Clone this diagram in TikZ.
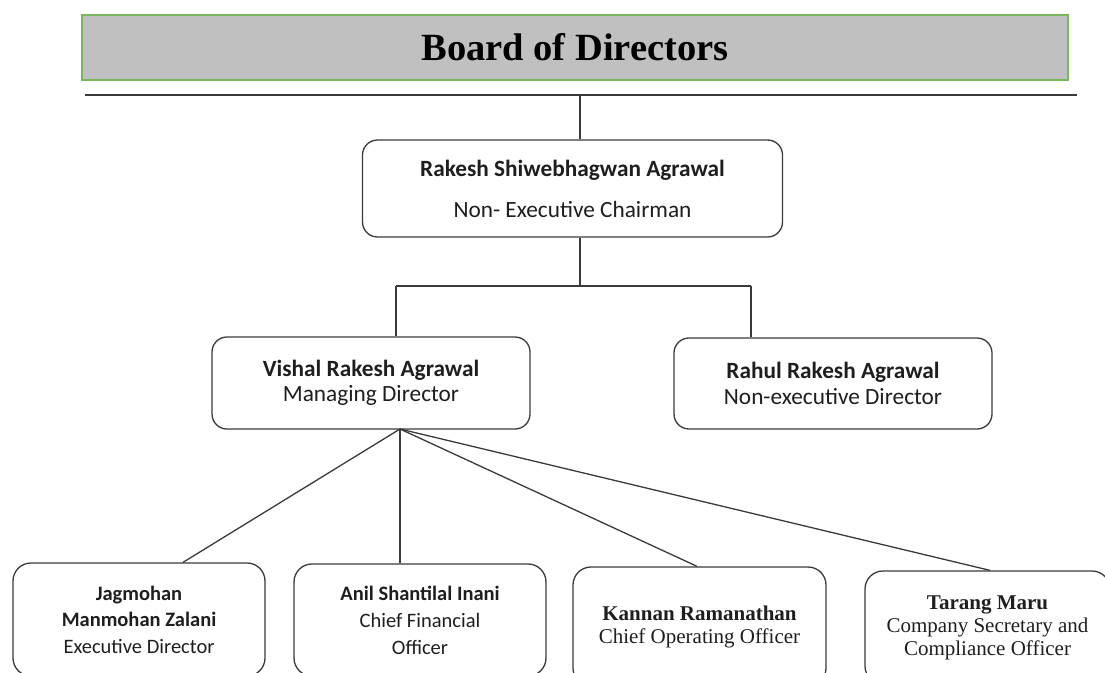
\documentclass[tikz,border=0pt]{standalone}
\usepackage{fontspec}
\setmainfont{Carlito}
\newfontfamily\tmsfont{Liberation Serif}
\definecolor{hdrgray}{HTML}{C0C0C0}
\definecolor{hdrgreen}{HTML}{7DB55A}
\definecolor{boxline}{HTML}{3A3A3A}
\definecolor{textc}{HTML}{1E1E1E}
\begin{document}
\begin{tikzpicture}[x=1pt,y=-1pt,
  box/.style={draw=boxline, line width=1.3pt, rounded corners=15pt, align=center, inner sep=0pt, text=textc},
  tmsbox/.style={font=\tmsfont\fontsize{21}{23}\selectfont},
  conn/.style={draw=boxline, line width=1.3pt},
  ]
\useasboundingbox (0,0) rectangle (1105,672);
% header
\node[draw=hdrgreen, fill=hdrgray, line width=1.5pt, minimum width=986pt, minimum height=65pt, inner sep=0pt, text=black,
      font=\tmsfont\bfseries\fontsize{38.5}{40}\selectfont] (hdr) at (575,47.5) {Board of Directors};
\coordinate (hl) at (85,95);
\coordinate (hr) at (1077,95);
\draw[draw=boxline, line width=1.8pt] (hl) -- (hr);
\coordinate (t1) at (580,95);
% chairman
\node[box, font=\fontsize{23.3}{27}\selectfont, minimum width=420pt, minimum height=97pt] (chair) at (572.5,188.5)
  {{\bfseries Rakesh Shiwebhagwan Agrawal}\\[14pt] Non- Executive Chairman};
\draw[conn] (t1) -- (t1 |- chair.north);
% directors
\node[box, font=\fontsize{23.3}{25}\selectfont, minimum width=318pt, minimum height=92pt] (vishal) at (371,383)
  {{\bfseries Vishal Rakesh Agrawal}\\ Managing Director};
\node[box, font=\fontsize{23.3}{26}\selectfont, minimum width=318pt, minimum height=91pt] (rahul) at (833,383.5)
  {{\bfseries Rahul Rakesh Agrawal}\\ Non-executive Director};
\coordinate (bm) at (580,286);
\coordinate (bl) at (396,286);
\coordinate (br) at (751,286);
\draw[conn] (chair.south -| bm) -- (bm);
\draw[conn] (bl) -- (br);
\draw[conn] (bl) -- (bl |- vishal.north);
\draw[conn] (br) -- (br |- rahul.north);
% officers
\node[box, font=\fontsize{20.5}{26.5}\selectfont, rounded corners=18pt, minimum width=252pt, minimum height=113pt] (jag) at (139,619.5)
  {{\bfseries Jagmohan}\\ {\bfseries Manmohan Zalani}\\ Executive Director};
\node[box, font=\fontsize{20.5}{27}\selectfont, rounded corners=18pt, minimum width=252pt, minimum height=112pt] (anil) at (420,620)
  {{\bfseries Anil Shantilal Inani}\\ Chief Financial\\ Officer};
\node[box, tmsbox, rounded corners=18pt, minimum width=253pt, minimum height=119pt] (kannan) at (699.5,626.5)
  {{\bfseries Kannan Ramanathan}\\ Chief Operating Officer};
\node[box, tmsbox, rounded corners=18pt, minimum width=245pt, minimum height=113pt] (tarang) at (987.5,627.5)
  {{\bfseries Tarang Maru}\\ Company Secretary and\\ Compliance Officer};
\coordinate (fan) at (400,429);
\draw[conn] (fan) -- (183,563 |- jag.north);
\draw[conn] (fan) -- (fan |- anil.north);
\draw[conn] (fan) -- (697,567 |- kannan.north);
\draw[conn] (fan) -- (990,571 |- tarang.north);
\end{tikzpicture}
\end{document}
